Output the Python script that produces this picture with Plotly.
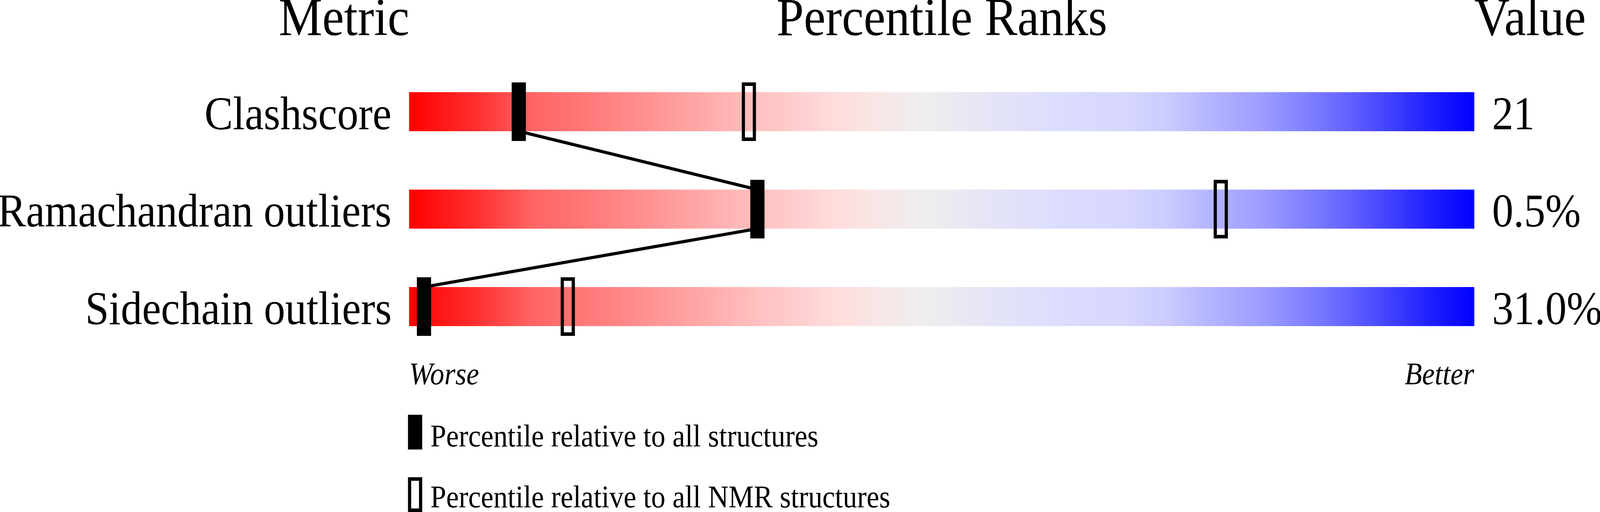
import numpy as np
import plotly.graph_objects as go

# ---- data ----
metrics = ["Clashscore", "Ramachandran outliers", "Sidechain outliers"]
value_labels = ["21", "0.5%", "31.0%"]
pct_all = [10.3, 32.7, 1.4]      # percentile relative to all structures
pct_nmr = [31.9, 76.2, 14.9]     # percentile relative to all NMR structures
headers = ["Metric", "Percentile Ranks", "Value"]
scale_ends = ["Worse", "Better"]
legend_labels = ["Percentile relative to all structures",
                 "Percentile relative to all NMR structures"]

# ---- geometry (reference pixels) ----
W, H = 4506, 1311
BAR_X0, BAR_X1 = 1152, 4152          # pixel extent of 0..100
PX_PER_UNIT = (BAR_X1 - BAR_X0) / 100.0
ROW0_PX, ROW_STEP = 286, 249.5
BAR_HALF = 50 / ROW_STEP
MARK_HALF = 75 / ROW_STEP
MARK_W = 40 / PX_PER_UNIT
OPEN_LW = 9
LINE_W = 8
OPEN_HALF = (75 - OPEN_LW / 2) / ROW_STEP
OPEN_W = (40 - OPEN_LW) / PX_PER_UNIT
BASE_FACTOR = 0.38

FONT = "Liberation Serif"

# gradient stops (position, r, g, b)
grad_pos = [0.0, 0.06, 0.116, 0.19, 0.26, 0.33, 0.40, 0.44, 0.485, 0.54,
            0.61, 0.667, 0.71, 0.75, 0.80, 0.84, 0.88, 0.92, 0.96, 1.0]
grad_rgb = [(255, 0, 0), (255, 45, 45), (255, 100, 100), (255, 130, 130),
            (255, 162, 162), (255, 193, 193), (255, 220, 220), (248, 230, 230),
            (238, 238, 238), (229, 229, 245), (220, 220, 255), (216, 216, 255),
            (204, 204, 255), (181, 181, 255), (157, 157, 255), (130, 130, 255),
            (100, 100, 255), (66, 66, 255), (30, 30, 255), (0, 0, 255)]
colorscale = [[p, "rgb(%d,%d,%d)" % c] for p, c in zip(grad_pos, grad_rgb)]

rows = list(range(len(metrics)))
fig = go.Figure()

# gradient bars
N = 1000
edges = np.linspace(0, 100, N + 1)
tvals = (np.arange(N) + 0.5) / N
for r in rows:
    fig.add_trace(go.Heatmap(
        x=edges, y=[r - BAR_HALF, r + BAR_HALF], z=[tvals],
        colorscale=colorscale, zmin=0, zmax=1, showscale=False,
        hoverinfo="skip"))

# filled markers (all structures)
fig.add_trace(go.Bar(
    x=pct_all, y=[2 * MARK_HALF] * len(rows),
    base=[r - MARK_HALF for r in rows], width=[MARK_W] * len(rows),
    marker=dict(color="black", line=dict(width=0)), hoverinfo="skip"))

# open markers (NMR structures)
fig.add_trace(go.Bar(
    x=pct_nmr, y=[2 * OPEN_HALF] * len(rows),
    base=[r - OPEN_HALF for r in rows], width=[OPEN_W] * len(rows),
    marker=dict(color="rgba(0,0,0,0)", line=dict(width=OPEN_LW, color="black")),
    hoverinfo="skip"))

# connecting line between filled markers
lx, ly = [], []
for i, r in enumerate(rows):
    if i > 0:
        lx.append(pct_all[i]); ly.append(r - BAR_HALF)
    if i < len(rows) - 1:
        lx.append(pct_all[i]); ly.append(r + BAR_HALF)
fig.add_trace(go.Scatter(x=lx, y=ly, mode="lines",
                         line=dict(color="black", width=LINE_W), hoverinfo="skip"))


def px(x):
    return x / W


def py(y):
    return 1 - y / H


ann = []


def text(t, x, baseline, size, anchor, italic=False):
    ann.append(dict(text=t, x=px(x), y=py(baseline), xref="paper", yref="paper",
                    xanchor=anchor, yanchor="middle", yshift=BASE_FACTOR * size,
                    showarrow=False,
                    font=dict(family=FONT, size=size, color="black",
                              style="italic" if italic else "normal")))


# headers
text(headers[0], 1155, 96, 138, "right")
text(headers[1], (BAR_X0 + BAR_X1) / 2, 96, 138, "center")
text(headers[2], 4150, 96, 138, "left")

# row labels and values
for r in rows:
    base = ROW0_PX + ROW_STEP * r + 50
    text(metrics[r], 1105, base, 120, "right")
    text(value_labels[r], 4200, base, 120, "left")

# worse / better
text(scale_ends[0], 1150, 987, 80, "left", italic=True)
text(scale_ends[1], BAR_X1 + 2, 987, 80, "right", italic=True)

# legend
text(legend_labels[0], 1210, 1146, 80, "left")
text(legend_labels[1], 1210, 1302, 80, "left")

shapes = [
    dict(type="rect", xref="paper", yref="paper",
         x0=px(1149), x1=px(1189), y0=py(1151), y1=py(1062),
         fillcolor="black", line=dict(width=0)),
    dict(type="rect", xref="paper", yref="paper",
         x0=px(1149 + OPEN_LW / 2), x1=px(1189 - OPEN_LW / 2),
         y0=py(1311 - OPEN_LW / 2), y1=py(1222 + OPEN_LW / 2),
         fillcolor="rgba(0,0,0,0)", line=dict(width=OPEN_LW, color="black")),
]

fig.update_layout(
    width=W, height=H, autosize=False,
    margin=dict(l=0, r=0, t=0, b=0, pad=0),
    paper_bgcolor="white", plot_bgcolor="white",
    barmode="overlay", showlegend=False,
    annotations=ann, shapes=shapes,
    xaxis=dict(range=[-BAR_X0 / PX_PER_UNIT, (W - BAR_X0) / PX_PER_UNIT],
               visible=False, showgrid=False, zeroline=False, fixedrange=True),
    yaxis=dict(range=[(H - ROW0_PX) / ROW_STEP, -ROW0_PX / ROW_STEP],
               visible=False, showgrid=False, zeroline=False, fixedrange=True),
)

# fit the fixed 4506x1311 figure exactly into whatever viewport the page gets
post = """
document.documentElement.style.margin='0';
document.body.style.margin='0';
document.body.style.overflow='hidden';
var gd = document.getElementById('{plot_id}');
function fitToView() {
  var sx = window.innerWidth / %d, sy = window.innerHeight / %d;
  gd.style.transformOrigin = '0 0';
  gd.style.transform = 'scale(' + sx + ',' + sy + ')';
}
fitToView();
window.addEventListener('resize', fitToView);
""" % (W, H)

fig.write_html("out.html", config={"displayModeBar": False, "responsive": False},
               post_script=post)
